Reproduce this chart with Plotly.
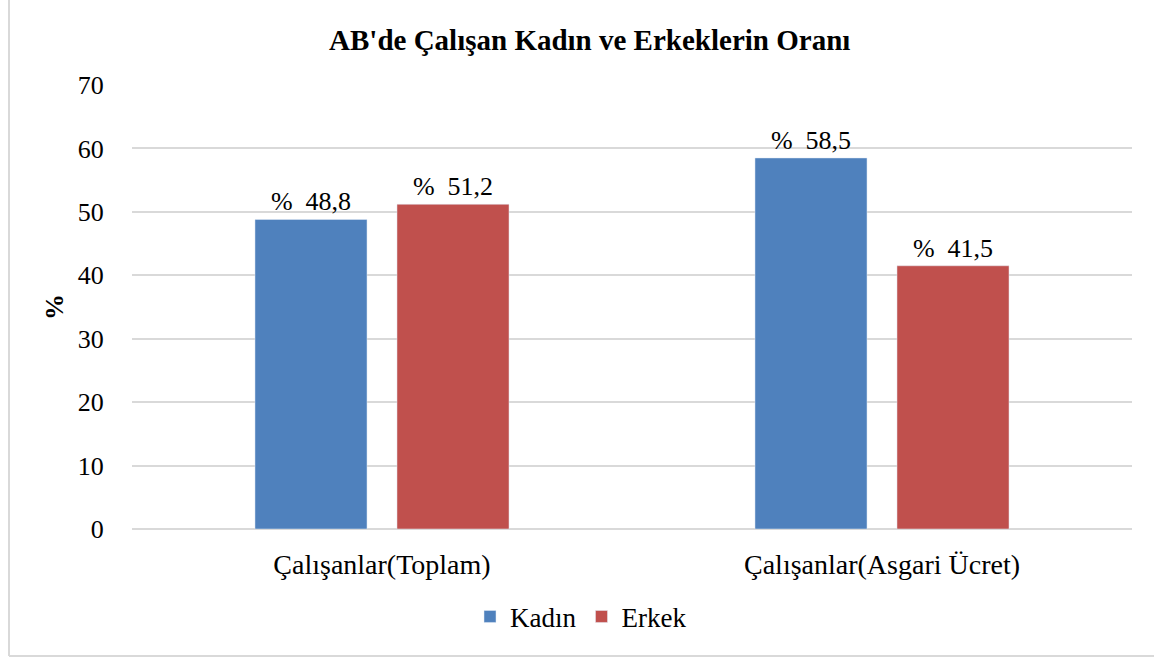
import plotly.graph_objects as go

categories = ["Çalışanlar(Toplam)", "Çalışanlar(Asgari Ücret)"]
kadin = [48.8, 58.5]
erkek = [51.2, 41.5]
y_ticks = [0, 10, 20, 30, 40, 50, 60, 70]

FONT = "Liberation Serif"
COLORS = {"kadin": "#4F81BD", "erkek": "#C0504D", "grid": "#D9D9D9"}


def label(v):
    return "%  " + f"{v:.1f}".replace(".", ",")


fig = go.Figure()
fig.add_trace(go.Bar(
    x=categories, y=kadin, name="Kadın",
    marker=dict(color=COLORS["kadin"]),
    text=[label(v) for v in kadin], textposition="outside",
    textfont=dict(size=26, color="black", family=FONT),
    cliponaxis=False
))
fig.add_trace(go.Bar(
    x=categories, y=erkek, name="Erkek",
    marker=dict(color=COLORS["erkek"]),
    text=[label(v) for v in erkek], textposition="outside",
    textfont=dict(size=26, color="black", family=FONT),
    cliponaxis=False
))

fig.update_layout(
    width=1154, height=659,
    margin=dict(l=132, r=22, t=85, b=130),
    plot_bgcolor="white", paper_bgcolor="white",
    font=dict(family=FONT, color="black", size=26),
    barmode="group", bargap=0.432, bargroupgap=0.211,
    title=dict(text="<b>AB'de Çalışan Kadın ve Erkeklerin Oranı</b>",
               x=0.511, xanchor="center", xref="container",
               y=0.94, yanchor="middle", yref="container",
               font=dict(size=29, family=FONT)),
    xaxis=dict(showgrid=False, showline=False, ticks="outside", ticklen=10,
               tickcolor="rgba(0,0,0,0)", tickfont=dict(size=28, family=FONT)),
    yaxis=dict(range=[0, 70], tickvals=y_ticks, showgrid=True,
               gridcolor=COLORS["grid"], gridwidth=1.5,
               zeroline=True, zerolinecolor=COLORS["grid"], zerolinewidth=1.5,
               ticks="outside", ticklen=22, tickcolor="rgba(0,0,0,0)",
               tickfont=dict(size=26, family=FONT),
               title=dict(text="<b>%</b>", standoff=6,
                          font=dict(size=26, family=FONT))),
    showlegend=True,
    legend=dict(orientation="h", x=0.449, xanchor="center", y=-0.198,
                yanchor="middle", font=dict(size=27, family=FONT), itemwidth=30,
                bgcolor="rgba(0,0,0,0)"),
    shapes=[
        dict(type="line", xref="paper", yref="paper", x0=-0.123, x1=-0.123,
             y0=-0.286, y1=1.3, line=dict(color=COLORS["grid"], width=2)),
        dict(type="line", xref="paper", yref="paper", x0=-0.123, x1=1.1,
             y0=-0.286, y1=-0.286, line=dict(color=COLORS["grid"], width=2)),
    ],
)

# page body has a default margin, drop it so the figure sits at 0,0
fig.write_html("out.html", config={"displayModeBar": False},
               post_script="document.body.style.margin='0';")
